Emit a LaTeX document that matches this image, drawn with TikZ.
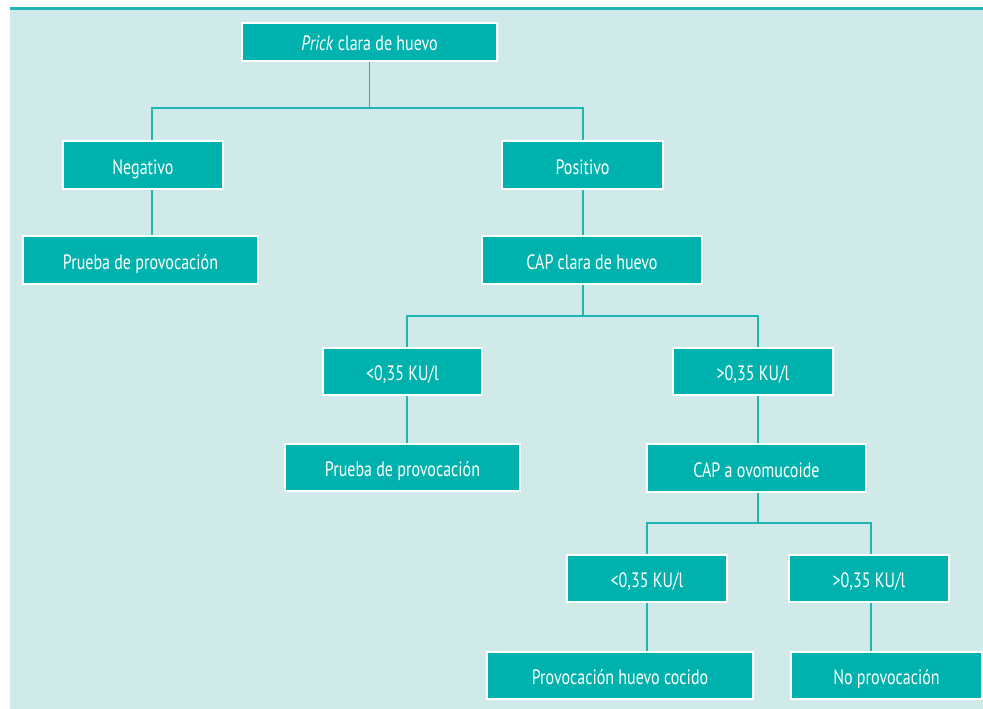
\documentclass[tikz,border=0pt]{standalone}
\usepackage{fontspec}
\setmainfont[FakeStretch=0.77]{PT Sans}
\definecolor{bg}{HTML}{D0EAEA}
\definecolor{boxfill}{HTML}{00B2AE}
\definecolor{linecol}{HTML}{20B6B4}
\begin{document}
\begin{tikzpicture}[x=1pt,y=-1pt,
  box/.style={draw=white, line width=1.2pt, fill=boxfill, text=white, inner sep=0pt,
    font=\fontsize{20.8}{24}\selectfont, text height=20pt, text depth=2pt, anchor=center},
  conn/.style={draw=linecol, line width=1.4pt}]
\useasboundingbox (0,0) rectangle (983,709);
\fill[white] (0,0) rectangle (983,709);
\fill[bg] (10,10) rectangle (983,709);
\fill[linecol] (10,7) rectangle (983,10);
% nodes
\node[box, minimum width=255pt, minimum height=38pt] (prick) at (369.5,42) {\textit{Prick} clara de huevo};
\node[box, minimum width=160pt, minimum height=48pt] (neg) at (143,165) {Negativo};
\node[box, minimum width=235pt, minimum height=48pt] (prov1) at (140.5,260) {Prueba de provocación};
\node[box, minimum width=161pt, minimum height=48pt] (pos) at (582.5,165) {Positivo};
\node[box, minimum width=220pt, minimum height=48pt] (capc) at (592,260) {CAP clara de huevo};
\node[box, minimum width=159pt, minimum height=47pt] (lt1) at (402.5,371.5) {<0,35 KU/l};
\node[box, minimum width=160pt, minimum height=47pt] (gt1) at (753,371.5) {>0,35 KU/l};
\node[box, minimum width=235pt, minimum height=47pt] (prov2) at (402.5,467.5) {Prueba de provocación};
\node[box, minimum width=219pt, minimum height=48pt] (capo) at (756.5,468) {CAP a ovomucoide};
\node[box, minimum width=160pt, minimum height=47pt] (lt2) at (647,578.5) {<0,35 KU/l};
\node[box, minimum width=160pt, minimum height=47pt] (gt2) at (869,578.5) {>0,35 KU/l};
\node[box, minimum width=266pt, minimum height=47pt] (cocido) at (620,675.5) {Provocación huevo cocido};
\node[box, minimum width=191pt, minimum height=47pt] (nopro) at (886.5,675.5) {No provocación};
% junction coordinates
\coordinate (h1) at (0,108);
\coordinate (h2) at (0,316);
\coordinate (h3) at (0,523);
\coordinate (xn) at (152,0);
\coordinate (xp) at (583,0);
\coordinate (xl) at (407,0);
\coordinate (xg) at (758,0);
\coordinate (xl2) at (647,0);
\coordinate (xg2) at (871,0);
% connectors
\draw[conn] (prick.south) -- (prick.south |- h1);
\draw[conn] (neg.north -| xn) |- (h1 -| xp) -- (pos.north -| xp);
\draw[conn] (neg.south -| xn) -- (prov1.north -| xn);
\draw[conn] (pos.south -| xp) -- (capc.north -| xp);
\draw[conn] (capc.south -| xp) -- (h2 -| xp);
\draw[conn] (lt1.north -| xl) |- (h2 -| xg) -- (gt1.north -| xg);
\draw[conn] (lt1.south -| xl) -- (prov2.north -| xl);
\draw[conn] (gt1.south -| xg) -- (capo.north -| xg);
\draw[conn] (capo.south -| xg) -- (h3 -| xg);
\draw[conn] (lt2.north -| xl2) |- (h3 -| xg2) -- (gt2.north -| xg2);
\draw[conn] (lt2.south -| xl2) -- (cocido.north -| xl2);
\draw[conn] (gt2.south -| xg2) -- (nopro.north -| xg2);
\end{tikzpicture}
\end{document}
